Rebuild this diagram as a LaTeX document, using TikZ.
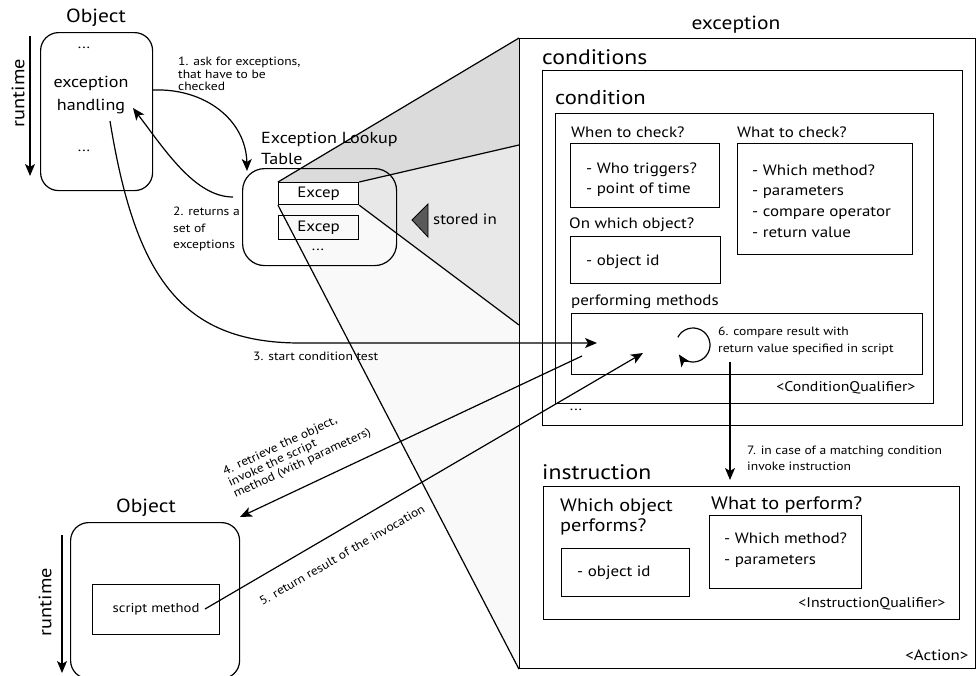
\documentclass[tikz,border=0pt]{standalone}
\usepackage{fontspec}
\setmainfont{PT Sans}[FakeStretch=1.13]
\usetikzlibrary{arrows.meta}
\newcommand{\fsz}[2]{\fontsize{#1}{#2}\selectfont}
\definecolor{faceA}{gray}{0.86}
\definecolor{faceB}{gray}{0.91}
\definecolor{faceC}{gray}{0.975}
\tikzstyle{box}=[draw, line width=1.2pt, anchor=north west, inner sep=0pt]
\tikzstyle{rbox}=[box, rounded corners=18pt]
\tikzstyle{txt}=[anchor=west, inner sep=0pt, align=left, font=\fsz{15}{18}]
\tikzstyle{lbl}=[txt, font=\fsz{12}{12.5}]
\tikzstyle{face}=[draw, line width=1.2pt, line join=round]
\tikzstyle{arr}=[line width=1.2pt, -{Stealth[length=12pt,width=10pt,inset=3pt]}]

\begin{document}
\begin{tikzpicture}[x=1pt,y=-1pt]
			\useasboundingbox (0,0) rectangle (976,675);
			% lookup table and zoomed exception
			\node[box, minimum width=80pt, minimum height=22pt] (ex1) at (278,182) {};
			\node[box, minimum width=456pt, minimum height=630pt] (exc) at (519,38) {};
			\coordinate (fa) at (519,145);
			\coordinate (fb) at (519,325);
			\fill[faceA] (ex1.north west) -- (exc.north west) -- (fa) -- (ex1.north east) -- cycle;
			\fill[faceB] (ex1.north east) -- (fa) -- (fb) -- (ex1.south east) -- cycle;
			\fill[faceC] (ex1.south west) -- (ex1.south east) -- (fb) -- (exc.south west) -- cycle;
			\draw[face] (ex1.north west) -- (exc.north west) (ex1.north east) -- (fa) (ex1.south east) -- (fb) (ex1.south west) -- (exc.south west);
			\node[rbox, rounded corners=22pt, minimum width=154pt, minimum height=97pt] (look) at (242,168) {};
			\node[box, fill=white, minimum width=80pt, minimum height=22pt, font=\fsz{15}{18}] (ex1) at (278,182) {Excep};
			\node[box, minimum width=80pt, minimum height=24pt, font=\fsz{15}{18}] (ex2) at (278,215) {Excep};
			\node[font=\fsz{14}{16}] (dots3) at (318,250) {...};
			\node[txt, font=\fsz{16}{21}] (lookl) at (261,148) {Exception Lookup\\Table};
			\draw[fill=black!65, line width=0.8pt] (412,220) -- (428,204) -- (428,237) -- cycle;
			\node[txt] (stored) at (433,219) {stored in};

			% exception
			\node[box, fill=white, minimum width=456pt, minimum height=630pt] (exc) at (519,38) {};
			\node[font=\fsz{19}{22}] (excl) at (736,25) {exception};
			\node[txt, font=\fsz{21}{24}] (condsl) at (542,57) {conditions};
			\node[box, minimum width=420pt, minimum height=355pt] (conds) at (542,70) {};
			\node[txt, font=\fsz{20}{24}] (condl) at (555,98) {condition};
			\node[box, minimum width=378pt, minimum height=290pt] (cond) at (555,113) {};
			\node[txt] (whenl) at (571,132) {When to check?};
			\node[box, minimum width=149pt, minimum height=64pt] (when) at (570,143) {};
			\node[txt, font=\fsz{15}{20}] (whent) at (586,180) {- Who triggers?\\- point of time};
			\node[txt] (whatl) at (737,132) {What to check?};
			\node[box, minimum width=175pt, minimum height=111pt] (what) at (737,143) {};
			\node[txt, font=\fsz{15}{20.7}] (whatt) at (752,201) {- Which method?\\- parameters\\- compare operator\\- return value};
			\node[txt] (onl) at (569,225) {On which object?};
			\node[box, minimum width=150pt, minimum height=47pt] (on) at (570,236) {};
			\node[txt] (ont) at (586,262) {- object id};
			\node[txt] (perfl) at (571,302) {performing methods};
			\node[box, minimum width=351pt, minimum height=61pt] (perf) at (571,313) {};
			\node[lbl, font=\fsz{12}{17}] (cmp) at (718,341) {6. compare result with\\return value specified in script};
			\node[anchor=east, font=\fsz{14}{17}] (cq) at (919,388) {<ConditionQualifier>};
			\node[font=\fsz{14}{16}] (dots4) at (576,410) {...};

			\node[txt, font=\fsz{21}{24}] (instl) at (542,472) {instruction};
			\node[box, minimum width=416pt, minimum height=133pt] (inst) at (543,486) {};
			\node[txt, font=\fsz{18}{20}] (whol) at (560,517) {Which object\\performs?};
			\node[box, minimum width=128pt, minimum height=48pt] (who) at (561,548) {};
			\node[txt] (whot) at (577,573) {- object id};
			\node[txt, font=\fsz{18}{20}] (perfml) at (711,505) {What to perform?};
			\node[box, minimum width=152pt, minimum height=73pt] (perfm) at (709,515) {};
			\node[txt, font=\fsz{15}{21}] (perfmt) at (724,550) {- Which method?\\- parameters};
			\node[anchor=east, font=\fsz{14}{17}] (iq) at (949,604) {<InstructionQualifier>};
			\node[anchor=east, font=\fsz{15}{18}] (act) at (972,655) {<Action>};

			% objects
			\node[rbox, minimum width=112pt, minimum height=158pt] (obj) at (40,32) {};
			\node[font=\fsz{19}{22}] (objl) at (96,18) {Object};
			\node[font=\fsz{14}{16}] (dots1) at (84,48) {...};
			\node[font=\fsz{16}{23}, align=center] (eh) at (91,95) {exception\\handling};
			\node[font=\fsz{14}{16}] (dots2) at (84,151) {...};
			\node[rotate=90, font=\fsz{18}{20}] (rt1l) at (18,93) {runtime};
			\node[rbox, minimum width=169pt, minimum height=156pt] (obj2) at (70,522) {};
			\node[font=\fsz{19}{22}] (obj2l) at (146,508) {Object};
			\node[box, minimum width=127pt, minimum height=50pt, font=\fsz{13}{15}] (sm) at (92,584) {script method};
			\node[rotate=90, font=\fsz{18}{20}] (rt2l) at (45,602) {runtime};

			% connectors
			\coordinate (rt1s) at (30,36); \coordinate (rt1e) at (30,176);
			\coordinate (rt2s) at (62,535); \coordinate (rt2e) at (62,673);
			\draw[arr] (rt1s) -- (rt1e);
			\draw[arr] (rt2s) -- (rt2e);
			\coordinate (a1s) at (153,90); \coordinate (a1e) at (247,171);
			\draw[arr] (a1s) .. controls (205,88) and (246,120) .. (a1e);
			\node[lbl] (a1l) at (178,74) {1. ask for exceptions,\\that have to be\\checked};
			\coordinate (a2s) at (233,197); \coordinate (a2e) at (133,108);
			\draw[arr] (a2s) .. controls (195,197) and (165,150) .. (a2e);
			\node[lbl, font=\fsz{12}{16.5}] (a2l) at (173,229) {2. returns a\\set of\\exceptions};
			\coordinate (a3s) at (110,121); \coordinate (a3m) at (300,343); \coordinate (a3e) at (597,343);
			\draw[arr] (a3s) .. controls (135,275) and (180,343) .. (a3m) -- (a3e);
			\node[lbl] (a3l) at (253,356) {3. start condition test};
			\coordinate (a4s) at (582,356); \coordinate (a4e) at (240,517);
			\draw[arr] (a4s) -- (a4e);
			\node[lbl, rotate=25] (a4l) at (229,484) {4. retrieve the object,\\invoke the script\\method (with parameters)};
			\coordinate (a5s) at (205,609); \coordinate (a5e) at (643,353);
			\draw[arr] (a5s) -- (a5e);
			\node[lbl, rotate=30, anchor=center] (a5l) at (342,555) {5. return result of the invocation};
			\coordinate (cyc) at (693,345);
			\draw[arr] ([shift={(153:17pt)}]cyc) arc[start angle=153, end angle=-146, radius=17pt];
			\coordinate (a7s) at (730,362); \coordinate (a7e) at (730,480);
			\draw[arr] (a7s) -- (a7e);
			\node[lbl, font=\fsz{12}{16}] (a7l) at (747,458) {7. in case of a matching condition\\invoke instruction};
		\end{tikzpicture}
\end{document}
